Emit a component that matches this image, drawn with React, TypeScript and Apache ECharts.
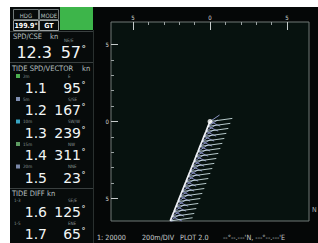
import React, { useEffect, useRef } from 'react';
import * as echarts from 'echarts';

// ---- panel values ----
const headingValue = '199.9°';
const modeValue = 'GT';
const shipSpeed = '12.3';
const shipCourse = '57';
const layerSpeeds = ['1.1', '1.2', '1.3', '1.4', '1.5'];
const layerDirs = ['95', '167', '239', '311', '23'];
const layerTags = ['2m', '5m', '10m', '15m', '20m'];
const layerDirTags = ['E', 'S/SE', 'SW/W', 'NW', 'NNE'];
const layerIconColors = ['#4caf50', '#7f8fb0', '#39a6c4', '#5d9c62', '#7a88a8'];
const diffSpeeds = ['1.6', '1.7'];
const diffDirs = ['125', '65'];
const diffTags = ['1-3', '1-5'];
const diffDirTags = ['SE/E', 'ENE'];
const footerTexts = ['1: 20000', '200m/DIV', 'PLOT 2.0', "--°--.---'N, ---°--.---'E"];

// ---- plot axes ----
const majorTicks = [-5, 0, 5];
const minorTicks = [-4, -3, -2, -1, 1, 2, 3, 4];

// ---- track (ship path, origin = own ship) ----
const trackX = [0, -0.13, -0.26, -0.39, -0.52, -0.65, -0.78, -0.91, -1.04, -1.17, -1.3, -1.43, -1.56, -1.69, -1.82, -1.95, -2.08, -2.21, -2.34, -2.47, -2.58];
const trackY = [0, -0.32, -0.65, -0.97, -1.3, -1.62, -1.95, -2.27, -2.6, -2.92, -3.25, -3.57, -3.9, -4.22, -4.55, -4.87, -5.2, -5.52, -5.85, -6.17, -6.45];
// current vectors drawn from each track point
const vectorDX = [0.62, 0.66, 1.45];
const vectorDY = [0.42, -0.3, 0.2];
const vectorColors = ['#a0a8e0', '#9098d0', '#d6eaec'];

const PANEL_FONT = '"DejaVu Sans Condensed", "Liberation Sans Narrow", "DejaVu Sans", sans-serif';
const NUM_FONT = '"DejaVu Sans", sans-serif';

function txt(text: string, x: number, y: number, size: number, fill: string, align = 'left', family = PANEL_FONT, weight = 'normal', lh?: number) {
  return {
    type: 'text',
    x,
    y,
    silent: true,
    style: { text, fill, fontSize: size, fontFamily: family, fontWeight: weight, align, verticalAlign: 'middle', lineHeight: lh ?? Math.round(size * 1.05) },
  };
}
function rect(x: number, y: number, w: number, h: number, fill: string, stroke?: string) {
  return {
    type: 'rect',
    silent: true,
    shape: { x, y, width: w, height: h },
    style: stroke ? { fill: 'none', stroke, lineWidth: 1 } : { fill },
  };
}
function hline(x1: number, x2: number, y: number, color: string) {
  return { type: 'line', silent: true, shape: { x1, y1: y, x2, y2: y }, style: { stroke: color, lineWidth: 1 } };
}

export default function App() {
  const ref = useRef<HTMLDivElement>(null);
  useEffect(() => {
    if (!ref.current) return;
    const chart = echarts.init(ref.current, undefined, { renderer: 'svg' });

    const graphics: any[] = [];
    // white margins of the photo
    graphics.push(rect(0, 0, 318, 7, '#ffffff'));
    graphics.push(rect(0, 0, 10, 243, '#ffffff'));
    // left panel
    graphics.push(rect(10, 7, 83, 236, '#070b0b'));
    graphics.push({ type: 'line', silent: true, shape: { x1: 93.5, y1: 30, x2: 93.5, y2: 243 }, style: { stroke: '#2a302f', lineWidth: 1 } });
    graphics.push(rect(60, 7, 33, 23, '#3db54a'));
    graphics.push(rect(13.5, 9.5, 25, 10, '', '#6f7777'));
    graphics.push(rect(39.5, 9.5, 19, 10, '', '#6f7777'));
    graphics.push(rect(13.5, 20.5, 25, 10, '', '#9aa0a0'));
    graphics.push(rect(39.5, 20.5, 19, 10, '', '#9aa0a0'));
    graphics.push(txt('HDG', 26, 15, 6, '#b8c0c0', 'center'));
    graphics.push(txt('MODE', 49, 15, 6, '#b8c0c0', 'center'));
    graphics.push(txt(headingValue, 26, 25.5, 7, '#ffffff', 'center', PANEL_FONT, 'bold'));
    graphics.push(txt(modeValue, 49, 25.5, 7, '#ffffff', 'center', PANEL_FONT, 'bold'));
    graphics.push(hline(10, 93, 31.5, '#3a4040'));
    graphics.push(txt('SPD/CSE', 13, 36, 7.5, '#b8c0c0'));
    graphics.push(txt('kn', 50, 36, 7.5, '#b8c0c0'));
    graphics.push(txt('NE/E', 64, 40, 4.5, '#8a9494'));
    graphics.push(txt(shipSpeed, 52, 52.5, 16, '#f2f6f6', 'right', NUM_FONT, 'normal', 12));
    graphics.push(txt(shipCourse, 81, 52.5, 16, '#f2f6f6', 'right', NUM_FONT, 'normal', 12));
    graphics.push(txt('°', 81.5, 49, 9, '#f2f6f6', 'left', NUM_FONT, 'normal', 6));
    graphics.push(hline(10, 93, 62.5, '#3a4040'));
    graphics.push(txt('TIDE SPD/VECTOR', 12, 68, 7.5, '#b8c0c0'));
    graphics.push(txt('kn', 82, 68, 7.5, '#b8c0c0'));

    const layerRows = [88, 110, 133, 155, 178];
    const layerTagRows = [76, 99, 121.5, 144, 166.5];
    layerSpeeds.forEach((s, i) => {
      const ty = layerTagRows[i];
      graphics.push(rect(16, ty - 2, 4, 4, layerIconColors[i]));
      graphics.push(txt(layerTags[i], 23, ty, 4.5, '#8a9494'));
      graphics.push(txt(layerDirTags[i], 68, ty, 4.5, '#8a9494'));
      const y = layerRows[i];
      graphics.push(txt(s, 47, y, 14, '#f2f6f6', 'right', NUM_FONT, 'normal', 11));
      graphics.push(txt(layerDirs[i], 81, y, 14, '#f2f6f6', 'right', NUM_FONT, 'normal', 11));
      graphics.push(txt('°', 81.5, y - 3, 8, '#f2f6f6', 'left', NUM_FONT, 'normal', 5));
    });
    graphics.push(hline(10, 93, 188.5, '#3a4040'));
    graphics.push(txt('TIDE DIFF', 12, 193, 7.5, '#b8c0c0'));
    graphics.push(txt('kn', 47, 193, 7.5, '#b8c0c0'));
    const diffRows = [212, 234];
    const diffTagRows = [200.6, 223];
    diffSpeeds.forEach((s, i) => {
      const ty = diffTagRows[i];
      graphics.push(txt(diffTags[i], 14, ty, 4.5, '#8a9494'));
      graphics.push(txt(diffDirTags[i], 68, ty, 4.5, '#8a9494'));
      const y = diffRows[i];
      graphics.push(txt(s, 47, y, 14, '#f2f6f6', 'right', NUM_FONT, 'normal', 11));
      graphics.push(txt(diffDirs[i], 81, y, 14, '#f2f6f6', 'right', NUM_FONT, 'normal', 11));
      graphics.push(txt('°', 81.5, y - 3, 8, '#f2f6f6', 'left', NUM_FONT, 'normal', 5));
    });
    // footer
    const footerX = [97, 142, 180, 223];
    footerTexts.forEach((t, i) => graphics.push(txt(t, footerX[i], 237, 7.2, '#c8cccc')));
    graphics.push(txt('N', 312, 210, 7, '#b0b6b6'));

    // vectors
    const vectorSeries: any[] = vectorDX.map((dx, k) => ({
      type: 'lines',
      coordinateSystem: 'cartesian2d',
      xAxisIndex: 0,
      yAxisIndex: 0,
      silent: true,
      lineStyle: { color: vectorColors[k], width: 0.9, opacity: 0.95, curveness: 0 },
      data: trackX.map((x, i) => ({ coords: [[x, trackY[i]], [x + dx, trackY[i] + vectorDY[k]]] })),
      z: 3 + k,
    }));

    const axisCommon = {
      type: 'value',
      splitLine: { show: false },
      axisLine: { show: false, onZero: false },
    };

    chart.setOption({
      animation: false,
      backgroundColor: '#050707',
      grid: [
        { left: 111, top: 22, width: 198, height: 199, show: true, borderColor: '#707876', borderWidth: 1, backgroundColor: '#07120f' },
        { left: 111, top: 22, width: 198, height: 199, show: false },
      ],
      xAxis: [
        { ...axisCommon, gridIndex: 0, min: -6.43, max: 6.43, position: 'top',
          axisTick: { show: true, inside: true, length: 3, customValues: minorTicks, lineStyle: { color: '#9aa2a2' } },
          axisLabel: { show: false } },
        { ...axisCommon, gridIndex: 1, min: -6.43, max: 6.43, position: 'top',
          axisTick: { show: true, inside: true, length: 8, customValues: majorTicks, lineStyle: { color: '#c4caca' } },
          axisLabel: { show: true, customValues: majorTicks, margin: 2, fontSize: 6, color: '#d6dada', fontFamily: PANEL_FONT,
            formatter: (v: number) => String(Math.abs(v)) } },
      ],
      yAxis: [
        { ...axisCommon, gridIndex: 0, min: -6.46, max: 6.46, position: 'left',
          axisTick: { show: true, inside: true, length: 3, customValues: minorTicks, lineStyle: { color: '#9aa2a2' } },
          axisLabel: { show: false } },
        { ...axisCommon, gridIndex: 1, min: -6.46, max: 6.46, position: 'left',
          axisTick: { show: true, inside: true, length: 7, customValues: majorTicks, lineStyle: { color: '#c4caca' } },
          axisLabel: { show: true, customValues: majorTicks, margin: 2, fontSize: 6, color: '#d6dada', fontFamily: PANEL_FONT,
            formatter: (v: number) => String(Math.abs(v)) } },
      ],
      series: [
        ...vectorSeries,
        {
          type: 'line',
          xAxisIndex: 0,
          yAxisIndex: 0,
          data: trackX.map((x, i) => [x, trackY[i]]),
          showSymbol: false,
          symbol: 'none',
          lineStyle: { color: '#eef0f6', width: 1.8 },
          silent: true,
          z: 8,
        },
        {
          type: 'scatter',
          xAxisIndex: 0,
          yAxisIndex: 0,
          data: [[trackX[0], trackY[0]]],
          symbolSize: 5,
          itemStyle: { color: '#ffffff' },
          silent: true,
          z: 9,
        },
      ],
      graphic: graphics,
    });
    return () => chart.dispose();
  }, []);
  return <div ref={ref} style={{ position: 'fixed', left: 0, top: 0, width: 318, height: 243 }} />;
}
